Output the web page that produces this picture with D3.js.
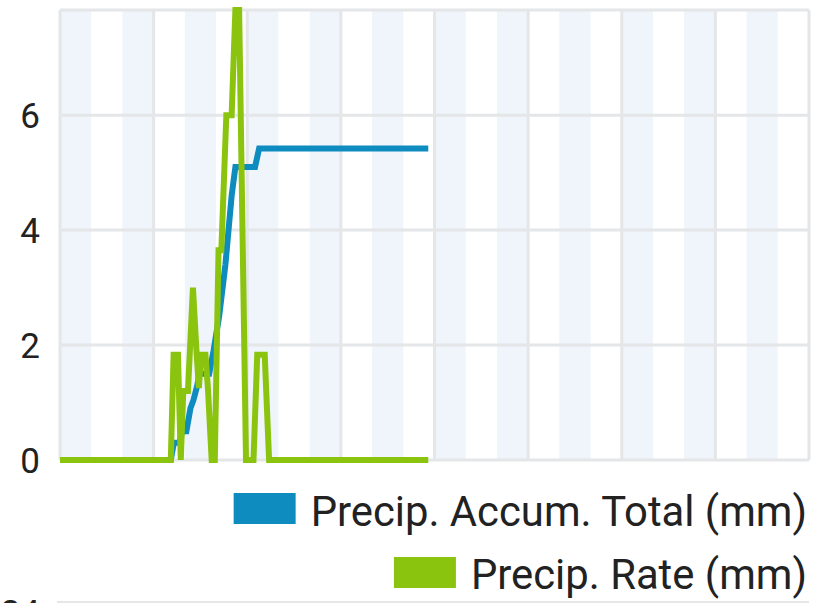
<!DOCTYPE html>
<html>
<head>
<meta charset="utf-8">
<script src="https://cdn.jsdelivr.net/npm/d3@7"></script>
<style>
  html, body { margin: 0; padding: 0; background: #fff; }
  svg { display: block; }
  text { font-family: Roboto, "Noto Sans", sans-serif; fill: #222; }
</style>
</head>
<body>
<svg id="chart" width="839" height="603"></svg>
<script>
// ---- data (hours of day, mm) ----
const xTicks = [0, 3, 6, 9, 12, 15, 18, 21, 24];
const yTicks = [0, 2, 4, 6];
const yMax = 7.83;

const accumHours  = [0, 3.55, 3.65, 3.82, 3.92, 4.05, 4.18, 4.28, 4.40, 4.47, 4.78, 4.92, 5.10, 5.30, 5.50, 5.62, 6.25, 6.38, 11.8];
const accumValues = [0, 0,    0.3,  0.3,  0.5,  0.5,  0.9,  1.05, 1.3,  1.5,  1.5,  1.9,  2.5,  3.4,  4.6,  5.1,  5.1,  5.42, 5.42];

const rateHours  = [0, 3.55, 3.64, 3.78, 3.87, 3.95, 4.10, 4.26, 4.38, 4.45, 4.52, 4.66, 4.74, 4.86, 4.96, 5.08, 5.17, 5.33, 5.50, 5.62, 5.74, 5.96, 6.20, 6.32, 6.56, 6.70, 11.8];
const rateValues = [0, 0,    1.83, 1.83, 0,    1.2,  1.2,  3.0,  1.83, 1.25, 1.83, 1.83, 1.25, 0,    0,    3.65, 3.65, 6.0,  6.0,  7.83, 7.83, 0,    0,    1.83, 1.83, 0,    0];

const seriesNames = ["Precip. Accum. Total (mm)", "Precip. Rate (mm)"];
const seriesColors = ["#0e8cbf", "#8bc40f"];

// ---- layout ----
const svg = d3.select("#chart");
const pLeft = 60, pRight = 809, pTop = 10, pBottom = 460;

const x = d3.scaleLinear().domain([0, 24]).range([pLeft, pRight]);
const y = d3.scaleLinear().domain([0, yMax]).range([pBottom, pTop]);

// alternating hour stripes
const stripes = d3.range(0, 24, 2);
svg.append("g").selectAll("rect").data(stripes).join("rect")
  .attr("x", d => x(d)).attr("y", pTop)
  .attr("width", d => x(d + 1) - x(d)).attr("height", pBottom - pTop)
  .attr("fill", "#eff5fa");

// grid
const grid = svg.append("g").attr("stroke", "#e4e6e8").attr("stroke-width", 3);
grid.selectAll("line.v").data(xTicks).join("line").attr("class", "v")
  .attr("x1", d => x(d)).attr("x2", d => x(d)).attr("y1", pTop).attr("y2", pBottom);
grid.selectAll("line.h").data(yTicks.concat([yMax])).join("line").attr("class", "h")
  .attr("x1", pLeft).attr("x2", pRight).attr("y1", d => y(d)).attr("y2", d => y(d));

// y axis labels
const yAxis = d3.axisLeft(y).tickValues(yTicks).tickSize(0).tickPadding(20).tickFormat(d3.format("d"));
const ya = svg.append("g").attr("transform", `translate(${pLeft},0)`).call(yAxis);
ya.select(".domain").remove();
ya.selectAll("text").style("font-size", "35px").attr("fill", "#222")
  .style("font-family", "Roboto, sans-serif").attr("dy", "0.36em");

// lines
const line = d3.line().x(d => x(d[0])).y(d => y(d[1]));
const accum = accumHours.map((h, i) => [h, accumValues[i]]);
const rate = rateHours.map((h, i) => [h, rateValues[i]]);

svg.append("path").datum(accum).attr("d", line)
  .attr("fill", "none").attr("stroke", seriesColors[0]).attr("stroke-width", 6);
svg.append("path").datum(rate).attr("d", line)
  .attr("fill", "none").attr("stroke", seriesColors[1]).attr("stroke-width", 6);

// legend (right aligned)
const legendRows = [{ yText: 526, ySq: 493 }, { yText: 589, ySq: 557 }];
seriesNames.forEach((name, i) => {
  const t = svg.append("text").attr("x", 807).attr("y", legendRows[i].yText)
    .attr("text-anchor", "end").style("font-size", "41.8px").text(name);
  const w = t.node().getComputedTextLength();
  svg.append("rect").attr("x", 807 - w - 15 - 62).attr("y", legendRows[i].ySq)
    .attr("width", 62).attr("height", 31).attr("fill", seriesColors[i]);
});

// next chart's top edge (cropped)
svg.append("line").attr("x1", 57).attr("x2", pRight).attr("y1", 602).attr("y2", 602)
  .attr("stroke", "#e4e6e8").attr("stroke-width", 2);
svg.append("text").attr("x", 40).attr("y", 625).attr("text-anchor", "end")
  .style("font-size", "35px").text("24");
</script>
</body>
</html>
